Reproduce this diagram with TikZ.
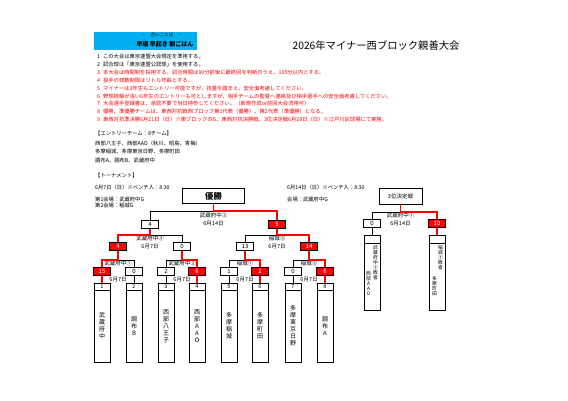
\documentclass[tikz,border=0pt]{standalone}
\usepackage{fontspec}
\setmainfont{Noto Sans CJK JP}
\usetikzlibrary{positioning}
\definecolor{skyband}{RGB}{0,176,240}

\begin{document}
\begin{tikzpicture}[x=1pt,y=-1pt,
  info/.style={anchor=west,inner sep=0pt,font=\fontsize{5.3}{6}\selectfont},
  rule/.style={info,text=red},
  score/.style={draw,line width=0.9pt,minimum width=17pt,minimum height=7.5pt,
    inner sep=0pt,font=\fontsize{6}{6}\selectfont},
  won/.style={score,fill=red,text=white},
  teamhead/.style={draw,line width=0.5pt,minimum width=16pt,minimum height=7pt,
    inner sep=0pt,outer sep=0pt,font=\fontsize{5.5}{5.5}\selectfont},
  teambody/.style={draw,line width=0.5pt,minimum width=16pt,minimum height=72pt,
    inner sep=0pt,outer sep=0pt,align=center,font=\fontsize{6}{7}\selectfont},
  loser/.style={inner sep=0pt,anchor=north,align=center,font=\fontsize{4.8}{5}\selectfont},
  match/.style={inner sep=0pt,font=\fontsize{5.5}{6}\selectfont},
  lose/.style={line width=0.7pt},
  win/.style={red,line width=1.3pt}
]
  \fill[white] (0,0) rectangle (568,401);
  \useasboundingbox (0,0) rectangle (568,401);

  \node[fill=skyband,minimum width=103pt,minimum height=18pt] (band) at (145.5,41) {};
  \node[inner sep=0pt,font=\fontsize{4.5}{5}\selectfont] (motto1) at (162,35) {―　合いことば　―};
  \node[inner sep=0pt,font=\fontsize{6}{6}\selectfont\bfseries] (motto2) at (165,44.5) {早寝 早起き 朝ごはん};
  \node[inner sep=0pt,font=\fontsize{10.3}{11}\selectfont] (title) at (376,46) {2026年マイナー西ブロック親善大会};

  \node[info] (r1) at (97,56.5) {1\hspace{3pt}この大会は東京連盟大会規定を準用する。};
  \node[info] (r2) at (97,64.4) {2\hspace{3pt}試合球は「東京連盟公認球」を使用する。};
  \node[rule] (r3) at (97,72.3) {3\hspace{3pt}本大会は時間制を採用する。試合時間は90分前後に最終回を判断のうえ、105分以内とする。};
  \node[rule] (r4) at (97,80.2) {4\hspace{3pt}投手の球数制限はリトル年齢とする。};
  \node[rule] (r5) at (97,88.1) {5\hspace{3pt}マイナーは3年生もエントリー可能ですが、技量を踏まえ、安全面考慮してください。};
  \node[rule] (r6) at (97,96) {6\hspace{3pt}野球経験が浅い6年生のエントリーも可としますが、相手チームの監督へ連絡及び相手選手への安全面考慮してください。};
  \node[rule] (r7) at (97,103.9) {7\hspace{3pt}大会選手登録書は、承認不要で当日持参してください。（新規作成or前回大会流用可）};
  \node[rule] (r8) at (97,111.8) {8\hspace{3pt}優勝、準優勝チームは、東西対抗戦西ブロック第1代表（優勝）、第2代表（準優勝）となる。};
  \node[rule] (r9) at (97,119.7) {9\hspace{3pt}東西対抗準決勝6月21日（日）※東ブロックのG、東西対抗決勝戦、3位決定戦6月28日（日）※江戸川区球場にて実施。};

  \node[info] (entry) at (95,133) {【エントリーチーム：8チーム】};
  \node[info] (entry1) at (95,143) {西部八王子、西部AAO（秋川、昭島、青梅）};
  \node[info] (entry2) at (95,151.5) {多摩稲城、多摩東京日野、多摩町田};
  \node[info] (entry3) at (95,160) {調布A、調布B、武蔵府中};
  \node[info] (bracket) at (95,175) {【トーナメント】};
  \node[info] (day1) at (95,187) {6月7日（日）※ベンチ入：8:30};
  \node[info] (site1) at (95,199) {第1会場：武蔵府中G};
  \node[info] (site2) at (95,205.5) {第2会場：稲城G};
  \node[info] (day2) at (287,187) {6月14日（日）※ベンチ入：8:30};
  \node[info] (site3) at (287,199) {会場：武蔵府中G};

  \node[draw,line width=0.8pt,minimum width=62pt,minimum height=15pt,
    font=\fontsize{8.3}{9}\selectfont\bfseries] (champ) at (213.5,196) {優勝};
  \coordinate (kf) at (213.5,211);
  \node[match] (labf) at (213.5,215.5) {武蔵府中②};
  \node[match] (datf) at (213.5,224) {6月14日};
  \node[score] (f1) at (150,224.5) {4};
  \node[won] (f2) at (277,224.5) {5};

  \coordinate (k1) at (150,235);
  \coordinate (k2) at (277,235);
  \node[match] (lab5) at (150,238.5) {武蔵府中③};
  \node[match] (dat5) at (150,247) {6月7日};
  \node[match] (lab6) at (277,238.5) {稲城③};
  \node[match] (dat6) at (277,247) {6月7日};
  \node[won] (q1) at (118,246.5) {4};
  \node[score] (q2) at (182,246.5) {0};
  \node[score] (q3) at (245,246.5) {13};
  \node[won] (q4) at (309,246.5) {14};

  \coordinate (j1) at (118,260);
  \coordinate (j2) at (182,260);
  \coordinate (j3) at (245,260);
  \coordinate (j4) at (309,260);
  \node[match] (lab1) at (118,263.5) {武蔵府中①};
  \node[match] (lab2) at (182,263.5) {武蔵府中②};
  \node[match] (lab3) at (245,263.5) {稲城①};
  \node[match] (lab4) at (309,263.5) {稲城②};
  \node[match] (dat1) at (118,279.5) {6月7日};
  \node[match] (dat2) at (182,279.5) {6月7日};
  \node[match] (dat3) at (245,279.5) {6月7日};
  \node[match] (dat4) at (309,279.5) {6月7日};
  \node[won] (p1) at (102,271.5) {15};
  \node[score] (p2) at (134,271.5) {0};
  \node[score] (p3) at (166,271.5) {2};
  \node[won] (p4) at (197,271.5) {6};
  \node[score] (p5) at (229,271.5) {1};
  \node[won] (p6) at (260,271.5) {2};
  \node[score] (p7) at (293,271.5) {0};
  \node[won] (p8) at (325,271.5) {6};

  \node[teamhead] (h1) at (102,286.5) {1};
  \node[teambody,below=0pt of h1] (t1) {武\\蔵\\府\\中};
  \node[teamhead] (h2) at (134,286.5) {2};
  \node[teambody,below=0pt of h2] (t2) {調\\布\\B};
  \node[teamhead] (h3) at (166,286.5) {3};
  \node[teambody,below=0pt of h3] (t3) {西\\部\\八\\王\\子};
  \node[teamhead] (h4) at (197,286.5) {4};
  \node[teambody,below=0pt of h4] (t4) {西\\部\\A\\A\\O};
  \node[teamhead] (h5) at (229,286.5) {5};
  \node[teambody,below=0pt of h5] (t5) {多\\摩\\稲\\城};
  \node[teamhead] (h6) at (260,286.5) {6};
  \node[teambody,below=0pt of h6] (t6) {多\\摩\\町\\田};
  \node[teamhead] (h7) at (293,286.5) {7};
  \node[teambody,below=0pt of h7] (t7) {多\\摩\\東\\京\\日\\野};
  \node[teamhead] (h8) at (325,286.5) {8};
  \node[teambody,below=0pt of h8] (t8) {調\\布\\A};

  \draw[win] (h1) -- (p1);
  \draw[lose] (h2) -- (p2);
  \draw[lose] (h3) -- (p3);
  \draw[win] (h4) -- (p4);
  \draw[lose] (h5) -- (p5);
  \draw[win] (h6) -- (p6);
  \draw[lose] (h7) -- (p7);
  \draw[win] (h8) -- (p8);

  \draw[lose] (p2.north) |- (j1);
  \draw[win] (p1.north) |- (j1) -- (q1);
  \draw[lose] (p3.north) |- (j2);
  \draw[win] (p4.north) |- (j2) -- (q2);
  \draw[lose] (p5.north) |- (j3);
  \draw[win] (p6.north) |- (j3) -- (q3);
  \draw[lose] (p7.north) |- (j4);
  \draw[win] (p8.north) |- (j4) -- (q4);
  \draw[lose] (q2.north) |- (k1);
  \draw[win] (q1.north) |- (k1) -- (f1);
  \draw[lose] (q3.north) |- (k2);
  \draw[win] (q4.north) |- (k2) -- (f2);
  \draw[lose] (f1.north) |- (kf);
  \draw[win] (f2.north) |- (kf) -- (champ);

  \node[draw,line width=0.8pt,minimum width=43pt,minimum height=16pt,
    font=\fontsize{5.5}{6}\selectfont] (third) at (400.5,196) {3位決定戦};
  \coordinate (kt) at (400.5,212);
  \node[match] (labt) at (400.5,215.5) {武蔵府中①};
  \node[match] (datt) at (400.5,223.5) {6月14日};
  \node[score] (g1) at (372,223.5) {0};
  \node[won] (g2) at (437,223.5) {10};
  \node[teamhead,minimum height=8pt] (th1) at (372,239) {};
  \node[teambody,minimum height=67pt,below=0pt of th1] (tb1) {};
  \node[teamhead,minimum height=8pt] (th2) at (437,239) {};
  \node[teambody,minimum height=67pt,below=0pt of th2] (tb2) {};
  \node[loser] (lost1) at (375.5,245) {武\\蔵\\府\\中\\③\\敗\\者};
  \node[loser] (team1) at (368.5,272) {西\\部\\A\\A\\O};
  \node[loser] (lost2) at (440.5,245) {稲\\城\\③\\敗\\者};
  \node[loser] (team2) at (434.5,276) {多\\摩\\町\\田};

  \draw[lose] (g1.north) |- (kt);
  \draw[win] (g2.north) |- (kt) -- (third);
  \draw[lose] (g1) -- (th1);
  \draw[win] (g2) -- (th2);
\end{tikzpicture}
\end{document}
